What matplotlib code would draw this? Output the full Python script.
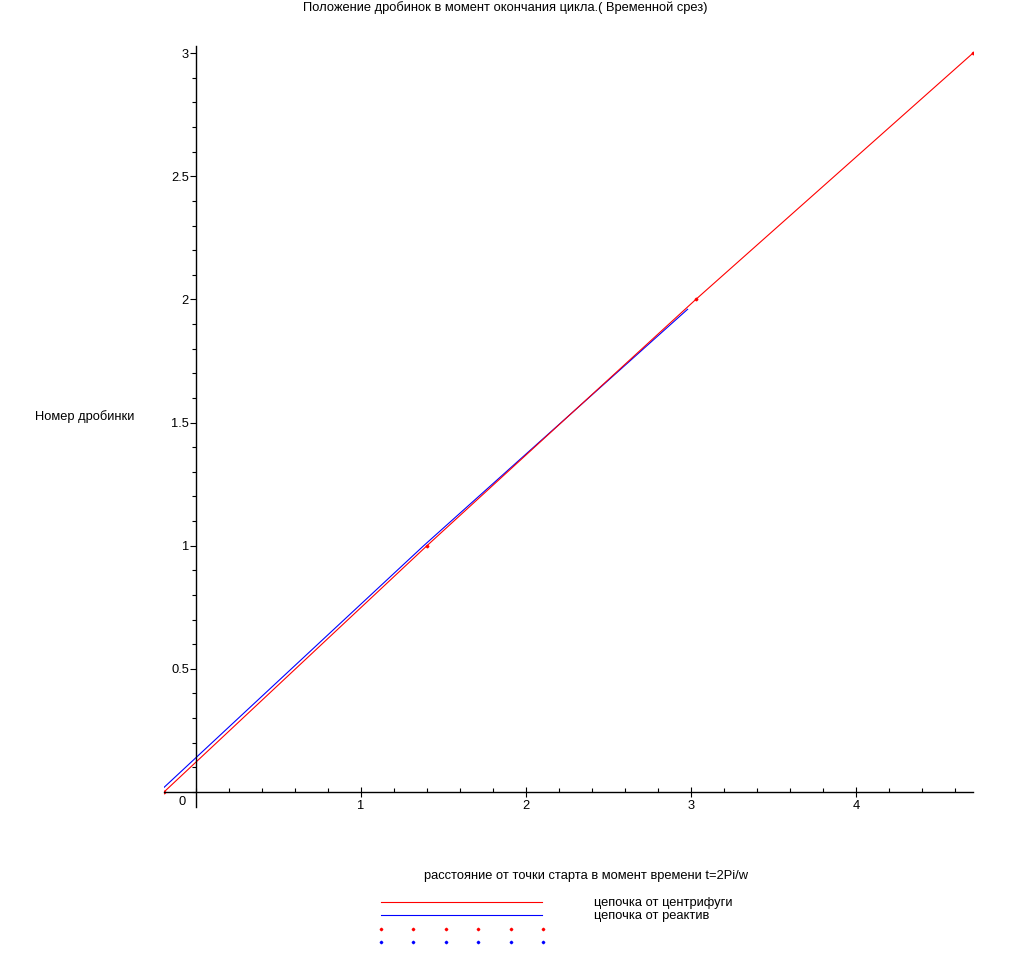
import matplotlib.pyplot as plt
from matplotlib.lines import Line2D
from matplotlib.ticker import MultipleLocator

plt.rcParams['font.family'] = ['Liberation Sans', 'DejaVu Sans']
plt.rcParams['font.size'] = 9.3

# цепочка от центрифуги (красная)
red_x = [-0.194, 1.40, 3.03, 4.71]
red_y = [0, 1, 2, 3]
# цепочка от реактив (синяя)
blue_x = [-0.2, 1.38, 2.98]
blue_y = [0.015, 1.0, 1.96]

x_ticks = [1, 2, 3, 4]
y_ticks = [0.5, 1, 1.5, 2, 2.5, 3]

title = 'Положение дробинок в момент окончания цикла.( Временной срез)'
x_label = 'расстояние от точки старта в момент времени t=2Pi/w'
y_label = 'Номер дробинки'
legend_labels = ['цепочка от центрифуги', 'цепочка от реактив']

W, H = 1011, 961
fig = plt.figure(figsize=(W / 100, H / 100), dpi=100)

# оси в пикселях: x от 164 до 973, y от 807 до 46
left, right = 164 / W, 973 / W
bottom, top = 1 - 806.8 / H, 1 - 45.7 / H
ax = fig.add_axes([left, bottom, right - left, top - bottom])
ax.set_xlim(-0.194, 4.71)
ax.set_ylim(-0.06, 3.03)

ax.plot(blue_x, blue_y, color='blue', lw=0.8)
ax.plot(red_x, red_y, color='red', lw=0.8)
ax.plot(red_x, red_y, 'D', color='red', ms=1.4, lw=0)

for s in ['top', 'right']:
    ax.spines[s].set_visible(False)
ax.spines['left'].set_position(('data', 0))
ax.spines['bottom'].set_position(('data', 0))
ax.spines['left'].set_linewidth(1)
ax.spines['bottom'].set_linewidth(1)

ax.set_xticks(x_ticks)
ax.set_xticklabels([str(t) for t in x_ticks])
ax.xaxis.set_minor_locator(MultipleLocator(0.2))
ax.set_yticks(y_ticks)
ax.set_yticklabels(['%g' % t for t in y_ticks])
ax.yaxis.set_minor_locator(MultipleLocator(0.1))
ax.tick_params(axis='x', which='major', direction='inout', length=7, width=0.8, pad=2)
ax.tick_params(axis='x', which='minor', direction='in', length=3, width=0.8)
ax.tick_params(axis='y', which='major', direction='out', length=4, width=0.8, pad=1)
ax.tick_params(axis='y', which='minor', direction='out', length=3, width=0.8)
ax.text(-0.06, -0.015, '0', ha='right', va='top')

fig.text(505 / W, 1 - 7.5 / H, title, ha='center', va='center')
fig.text(586 / W, 1 - 876 / H, x_label, ha='center', va='center')
fig.text(85 / W, 1 - 417 / H, y_label, ha='center', va='center')

# легенда внизу
fig.add_artist(Line2D([381 / W, 542 / W], [1 - 902 / H] * 2, color='red', lw=0.8))
fig.add_artist(Line2D([381 / W, 542 / W], [1 - 915 / H] * 2, color='blue', lw=0.8))
fig.text(594 / W, 1 - 903 / H, legend_labels[0], ha='left', va='center')
fig.text(594 / W, 1 - 916 / H, legend_labels[1], ha='left', va='center')
dot_x = [381, 413, 446, 478, 511, 543]
fig.add_artist(Line2D([d / W for d in dot_x], [1 - 929 / H] * 6, color='red', lw=0,
                      marker='D', ms=1.3))
fig.add_artist(Line2D([d / W for d in dot_x], [1 - 942 / H] * 6, color='blue', lw=0,
                      marker='D', ms=1.3))

fig.savefig('out.png', dpi=100)
